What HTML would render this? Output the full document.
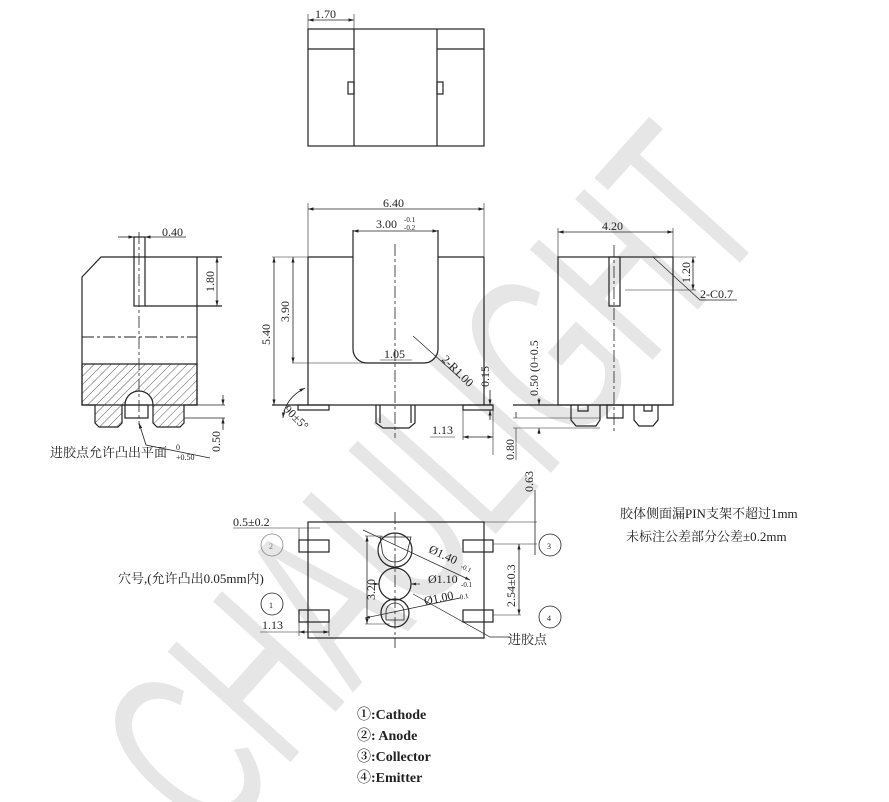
<!DOCTYPE html>
<html><head><meta charset="utf-8"><style>
html,body{margin:0;padding:0;background:#fff;width:889px;height:802px;overflow:hidden;}
svg{display:block;}
text{font-family:"Liberation Serif","Noto Serif CJK SC","Noto Sans CJK SC",serif;fill:#222;}
.d{font-size:12px;}
</style></head><body>
<svg width="889" height="802" viewBox="0 0 889 802" xmlns="http://www.w3.org/2000/svg">
<defs>
<pattern id="h" width="6" height="6" patternUnits="userSpaceOnUse" patternTransform="rotate(45)">
<line x1="0" y1="0" x2="0" y2="6" stroke="#333" stroke-width="0.8"/></pattern>
<marker id="a" markerWidth="8" markerHeight="6" refX="7" refY="3" orient="auto"><path d="M0,1 L7,3 L0,5z" fill="#222"/></marker>
<marker id="b" markerWidth="8" markerHeight="6" refX="1" refY="3" orient="auto"><path d="M8,1 L1,3 L8,5z" fill="#222"/></marker>
</defs>
<g transform="translate(430,480) rotate(-48)"><text x="0" y="85" text-anchor="middle" textLength="840" lengthAdjust="spacingAndGlyphs" style="font-family:'Liberation Sans',sans-serif;font-size:240px;fill:#e6e6e6;">CHAULIGHT</text></g>

<g fill="none" stroke="#222" stroke-width="1.2">
<rect x="308" y="29" width="176" height="117"/>
<line x1="354" y1="29" x2="354" y2="146"/><line x1="437" y1="29" x2="437" y2="146"/>
<line x1="308" y1="49" x2="354" y2="49"/><line x1="437" y1="49" x2="484" y2="49"/>
<rect x="348" y="82" width="6" height="12"/><rect x="437" y="82" width="6" height="12"/>
<line x1="308" y1="20" x2="354" y2="20" stroke-width="0.8" marker-start="url(#b)" marker-end="url(#a)"/>
<line x1="308" y1="14" x2="308" y2="29" stroke-width="0.6"/><line x1="354" y1="14" x2="354" y2="29" stroke-width="0.6"/>

<path d="M82,277 L101,257 L197,257 L197,405 L82,405 Z"/>
<rect x="134" y="237" width="11" height="69"/>
<line x1="145" y1="306" x2="222" y2="306"/>
<line x1="197" y1="257" x2="222" y2="257"/>
<line x1="217" y1="257" x2="217" y2="306" stroke-width="0.8" marker-start="url(#b)" marker-end="url(#a)"/>
<line x1="118" y1="237" x2="134" y2="237" stroke-width="0.8" marker-end="url(#a)"/>
<line x1="145" y1="237" x2="186" y2="237" stroke-width="0.8" marker-start="url(#b)"/>
<line x1="82" y1="337" x2="197" y2="337" stroke-dasharray="12,3,3,3" stroke-width="0.9"/>
<path d="M82,364 L197,364 L197,405 L184,405 L184,423 L180,427 L157,427 L153,423 L153,405 A14,14 0 0 0 125,405 L122,405 L122,423 L118,427 L99,427 L95,423 L95,405 L82,405 Z" fill="url(#h)"/>
<rect x="125" y="405" width="23" height="13"/>
<line x1="139" y1="232" x2="139" y2="425" stroke-dasharray="12,3,3,3" stroke-width="0.8"/>
<line x1="197" y1="405" x2="225" y2="405" stroke-width="0.8"/><line x1="184" y1="418" x2="225" y2="418" stroke-width="0.8"/>
<line x1="223" y1="395" x2="223" y2="405" stroke-width="0.8" marker-end="url(#a)"/>
<line x1="223" y1="430" x2="223" y2="418" stroke-width="0.8" marker-end="url(#a)"/>
<polyline points="139,423 146,445 210,458" stroke-width="0.8" marker-start="url(#b)"/>

<path d="M308,257 L353,257 M438,257 L484,257 M308,257 L308,405 M484,257 L484,405"/>
<path d="M353,230 L353,349 A14,14 0 0 0 367,363 L424,363 A14,14 0 0 0 438,349 L438,230"/>
<line x1="272" y1="405" x2="493" y2="405"/>
<rect x="298" y="405" width="31" height="5"/><rect x="463" y="405" width="30" height="5"/>
<path d="M376,405 L376,423 L383,428 L409,428 L415,423 L415,405 M380,405 L380,423 M411,405 L411,423"/>
<line x1="395" y1="244" x2="395" y2="438" stroke-dasharray="12,3,3,3" stroke-width="0.8"/>
<line x1="308" y1="209" x2="484" y2="209" stroke-width="0.8" marker-start="url(#b)" marker-end="url(#a)"/>
<line x1="308" y1="203" x2="308" y2="257" stroke-width="0.6"/><line x1="484" y1="203" x2="484" y2="257" stroke-width="0.6"/>
<line x1="353" y1="231" x2="438" y2="231" stroke-width="0.8" marker-start="url(#b)" marker-end="url(#a)"/>
<line x1="272" y1="257" x2="308" y2="257" stroke-width="0.6"/>
<line x1="274" y1="257" x2="274" y2="405" stroke-width="0.8" marker-start="url(#b)" marker-end="url(#a)"/>
<line x1="292" y1="363" x2="367" y2="363" stroke-width="0.6"/>
<line x1="293" y1="257" x2="293" y2="363" stroke-width="0.8" marker-start="url(#b)" marker-end="url(#a)"/>
<line x1="380" y1="360" x2="412" y2="360" stroke-width="0.6"/>
<line x1="413" y1="336" x2="460" y2="378" stroke-width="0.7"/>
<path d="M283,418 Q285,398 305,388" stroke-width="0.8" marker-start="url(#b)" marker-end="url(#a)"/>
<line x1="493" y1="405" x2="493" y2="455" stroke-width="0.6"/>
<line x1="490" y1="390" x2="490" y2="405" stroke-width="0.8" marker-end="url(#a)"/>
<line x1="490" y1="420" x2="490" y2="410" stroke-width="0.8" marker-end="url(#a)"/>
<line x1="463" y1="410" x2="463" y2="440" stroke-width="0.6"/>
<line x1="463" y1="437" x2="493" y2="437" stroke-width="0.8" marker-start="url(#b)" marker-end="url(#a)"/>
<line x1="430" y1="437" x2="455" y2="437" stroke-width="0.6"/>

<rect x="558" y="257" width="115" height="148"/>
<rect x="609" y="257" width="11" height="49"/>
<line x1="614" y1="245" x2="614" y2="432" stroke-dasharray="12,3,3,3" stroke-width="0.8"/>
<line x1="558" y1="232" x2="673" y2="232" stroke-width="0.8" marker-start="url(#b)" marker-end="url(#a)"/>
<line x1="558" y1="228" x2="558" y2="257" stroke-width="0.6"/><line x1="673" y1="228" x2="673" y2="257" stroke-width="0.6"/>
<line x1="673" y1="257" x2="696" y2="257" stroke-width="0.6"/><line x1="625" y1="290" x2="696" y2="290" stroke-width="0.6"/>
<line x1="693" y1="257" x2="693" y2="290" stroke-width="0.8" marker-start="url(#b)" marker-end="url(#a)"/>
<polyline points="653,257 700,300 737,300" stroke-width="0.7"/>
<line x1="513" y1="405" x2="673" y2="405"/>
<path d="M571,405 L571,420 L576,426 L596,426 L600,420 L600,405 M578,405 L578,411 L588,411 L588,405"/>
<path d="M634,405 L634,420 L639,426 L653,426 L658,420 L658,405 M644,405 L644,411 L652,411 L652,405"/>
<rect x="607" y="405" width="16" height="13"/>
<line x1="513" y1="418" x2="600" y2="418" stroke-width="0.6"/><line x1="513" y1="428" x2="600" y2="428" stroke-width="0.6"/>
<line x1="539" y1="398" x2="539" y2="405" stroke-width="0.8" marker-end="url(#a)"/>
<line x1="539" y1="434" x2="539" y2="428" stroke-width="0.8" marker-end="url(#a)"/>
<line x1="516" y1="412" x2="516" y2="418" stroke-width="0.8"/>
<line x1="516" y1="460" x2="516" y2="428" stroke-width="0.6"/>

<rect x="308" y="522" width="176" height="116"/>
<rect x="299" y="540" width="30" height="12"/><rect x="299" y="610" width="30" height="12"/>
<rect x="463" y="540" width="30" height="12"/><rect x="463" y="610" width="30" height="12"/>
<line x1="395" y1="512" x2="395" y2="648" stroke-dasharray="12,3,3,3" stroke-width="0.8"/>
<circle cx="395" cy="550" r="17"/><path d="M380,537 L411,537 L408,549 A13,13 0 0 1 382,549 Z" stroke-width="0.8"/>
<circle cx="395" cy="584" r="16"/>
<circle cx="395" cy="613" r="14"/><path d="M386,620 L386,612 A9,9 0 0 1 404,612 L404,620 Z" stroke-width="0.8"/>
<line x1="367" y1="536" x2="367" y2="624" stroke-width="0.8" marker-start="url(#b)" marker-end="url(#a)"/>
<line x1="365" y1="536" x2="382" y2="536" stroke-width="0.6"/><line x1="365" y1="624" x2="390" y2="624" stroke-width="0.6"/>
<line x1="363" y1="530" x2="470" y2="580" stroke-width="0.7" marker-end="url(#a)"/>
<line x1="370" y1="584" x2="379" y2="584" stroke-width="0.7" marker-end="url(#a)"/>
<line x1="420" y1="584" x2="411" y2="584" stroke-width="0.7" marker-end="url(#a)"/>
<line x1="365" y1="618" x2="460" y2="598" stroke-width="0.7" marker-start="url(#b)"/>
<polyline points="413,594 490,637 510,637" stroke-width="0.7"/>
<line x1="493" y1="544" x2="537" y2="544" stroke-width="0.6"/><line x1="493" y1="615" x2="521" y2="615" stroke-width="0.6"/>
<line x1="519" y1="544" x2="519" y2="615" stroke-width="0.8" marker-start="url(#b)" marker-end="url(#a)"/>
<line x1="484" y1="522" x2="537" y2="522" stroke-width="0.6"/>
<line x1="535" y1="490" x2="535" y2="555" stroke-width="0.8"/>
<line x1="233" y1="528" x2="320" y2="528" stroke-width="0.6"/>
<line x1="299" y1="528" x2="299" y2="540" stroke-width="0.6"/><line x1="308" y1="522" x2="308" y2="540" stroke-width="0.6"/>
<line x1="260" y1="632" x2="329" y2="632" stroke-width="0.6"/>
<line x1="299" y1="632" x2="329" y2="632" stroke-width="0.8" marker-start="url(#b)" marker-end="url(#a)"/>
<line x1="299" y1="622" x2="299" y2="636" stroke-width="0.6"/><line x1="329" y1="622" x2="329" y2="636" stroke-width="0.6"/>
<circle cx="272" cy="545" r="11" stroke="#888" stroke-width="0.8"/>
<circle cx="272" cy="604" r="11" stroke-width="0.8"/>
<circle cx="550" cy="545" r="11" stroke-width="0.8"/>
<circle cx="550" cy="617" r="11" stroke-width="0.8"/>
</g>

<text class="d" x="315" y="18">1.70</text>
<text class="d" x="162" y="236">0.40</text>
<text class="d" transform="translate(214,292) rotate(-90)">1.80</text>
<text class="d" x="383" y="207">6.40</text>
<text class="d" x="376" y="228">3.00</text><text x="404" y="222" style="font-size:7px">-0.1</text><text x="404" y="230" style="font-size:7px">-0.2</text>
<text class="d" transform="translate(270,345) rotate(-90)">5.40</text>
<text class="d" transform="translate(289,322) rotate(-90)">3.90</text>
<text class="d" x="384" y="358">1.05</text>
<text class="d" transform="translate(441,360) rotate(45)">2-R1.00</text>
<text class="d" transform="translate(489,387) rotate(-90)">0.15</text>
<text class="d" transform="translate(283,410) rotate(45)">90±5°</text>
<text class="d" x="432" y="434">1.13</text>
<text class="d" transform="translate(514,460) rotate(-90)">0.80</text>
<text class="d" x="602" y="230">4.20</text>
<text class="d" transform="translate(690,283) rotate(-90)">1.20</text>
<text class="d" x="700" y="298">2-C0.7</text>
<text class="d" transform="translate(538,396) rotate(-90)">0.50 (0+0.5</text>
<text class="d" transform="translate(220,452) rotate(-90)">0.50</text>
<text style="font-size:13px" x="50" y="457">进胶点允许凸出平面</text><text x="176" y="450" style="font-size:8px">0</text><text x="176" y="460" style="font-size:8px">+0.50</text>
<text class="d" x="233" y="526">0.5±0.2</text>
<text class="d" transform="translate(533,492) rotate(-90)">0.63</text>
<text style="font-size:8px;fill:#777" x="269" y="549">2</text>
<text style="font-size:8px" x="269" y="608">1</text>
<text style="font-size:8px" x="547" y="549">3</text>
<text style="font-size:8px" x="547" y="621">4</text>
<text style="font-size:13px" x="118" y="583">穴号,(允许凸出0.05mm内)</text>
<text class="d" x="262" y="629">1.13</text>
<text class="d" transform="translate(375,600) rotate(-90)">3.20</text>
<text class="d" transform="translate(428,552) rotate(25)">Ø1.40</text><text transform="translate(460,568) rotate(25)" style="font-size:7px">-0.1</text>
<text class="d" x="428" y="583">Ø1.10</text><text x="461" y="587" style="font-size:7px">-0.1</text>
<text class="d" transform="translate(425,605) rotate(-12)">Ø1.00</text><text transform="translate(458,600) rotate(-12)" style="font-size:7px">-0.1</text>
<text class="d" transform="translate(515,607) rotate(-90)">2.54±0.3</text>
<text style="font-size:13px" x="508" y="644">进胶点</text>
<text style="font-size:13px" x="620" y="518">胶体侧面漏PIN支架不超过1mm</text>
<text style="font-size:13px" x="626" y="541">未标注公差部分公差±0.2mm</text>
<g style="font-size:14px;font-weight:bold">
<text x="357" y="719">①:Cathode</text>
<text x="357" y="740">②: Anode</text>
<text x="357" y="761">③:Collector</text>
<text x="357" y="782">④:Emitter</text>
</g>
</svg>
</body></html>
